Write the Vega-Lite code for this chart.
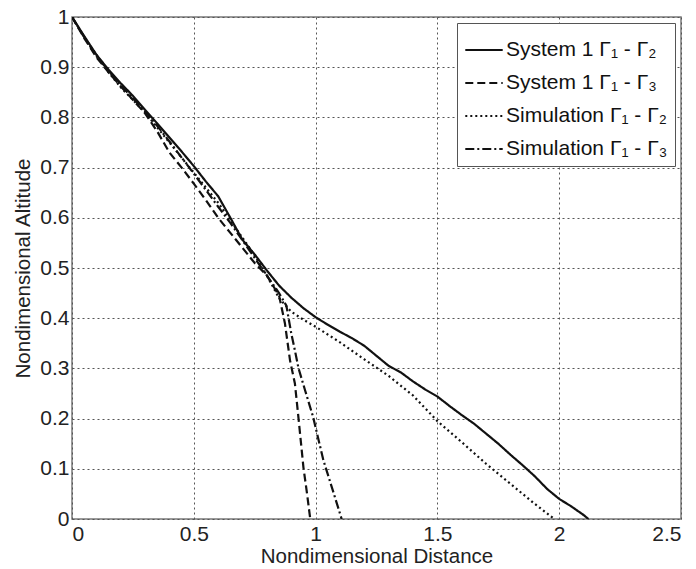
{
  "$schema": "https://vega.github.io/schema/vega-lite/v6.json",
  "autosize": "none",
  "width": 609,
  "height": 502,
  "padding": {"left": 72, "top": 17, "right": 15, "bottom": 50},
  "background": "white",
  "config": {
    "font": "Liberation Sans",
    "view": {"stroke": "#7a7a7a", "strokeWidth": 1.5},
    "axis": {
      "domain": false,
      "grid": true,
      "gridColor": "#555555",
      "gridDash": [2, 3],
      "gridWidth": 1,
      "gridOpacity": 1,
      "ticks": false,
      "labelFont": "Liberation Sans",
      "labelFontSize": 21,
      "labelColor": "#222222",
      "titleFont": "Liberation Sans",
      "titleFontSize": 20.5,
      "titleFontWeight": "normal",
      "titleColor": "#222222"
    }
  },
  "data": {
    "values": [
      {"series": "S1G12", "x": 0, "y": 1},
      {"series": "S1G12", "x": 0.05, "y": 0.962},
      {"series": "S1G12", "x": 0.1, "y": 0.925},
      {"series": "S1G12", "x": 0.15, "y": 0.895},
      {"series": "S1G12", "x": 0.2, "y": 0.868},
      {"series": "S1G12", "x": 0.25, "y": 0.843},
      {"series": "S1G12", "x": 0.3, "y": 0.815},
      {"series": "S1G12", "x": 0.35, "y": 0.788},
      {"series": "S1G12", "x": 0.4, "y": 0.76},
      {"series": "S1G12", "x": 0.45, "y": 0.732},
      {"series": "S1G12", "x": 0.5, "y": 0.703},
      {"series": "S1G12", "x": 0.55, "y": 0.672},
      {"series": "S1G12", "x": 0.6, "y": 0.643},
      {"series": "S1G12", "x": 0.65, "y": 0.6},
      {"series": "S1G12", "x": 0.7, "y": 0.556},
      {"series": "S1G12", "x": 0.75, "y": 0.527},
      {"series": "S1G12", "x": 0.8, "y": 0.495},
      {"series": "S1G12", "x": 0.85, "y": 0.465},
      {"series": "S1G12", "x": 0.9, "y": 0.441},
      {"series": "S1G12", "x": 0.95, "y": 0.42},
      {"series": "S1G12", "x": 1.0, "y": 0.402},
      {"series": "S1G12", "x": 1.05, "y": 0.387},
      {"series": "S1G12", "x": 1.1, "y": 0.373},
      {"series": "S1G12", "x": 1.15, "y": 0.36},
      {"series": "S1G12", "x": 1.2, "y": 0.345},
      {"series": "S1G12", "x": 1.25, "y": 0.325},
      {"series": "S1G12", "x": 1.3, "y": 0.305},
      {"series": "S1G12", "x": 1.35, "y": 0.292},
      {"series": "S1G12", "x": 1.4, "y": 0.274},
      {"series": "S1G12", "x": 1.45, "y": 0.258},
      {"series": "S1G12", "x": 1.5, "y": 0.244},
      {"series": "S1G12", "x": 1.55, "y": 0.225},
      {"series": "S1G12", "x": 1.6, "y": 0.207},
      {"series": "S1G12", "x": 1.65, "y": 0.19},
      {"series": "S1G12", "x": 1.7, "y": 0.17},
      {"series": "S1G12", "x": 1.75, "y": 0.15},
      {"series": "S1G12", "x": 1.8, "y": 0.128},
      {"series": "S1G12", "x": 1.85, "y": 0.107},
      {"series": "S1G12", "x": 1.9, "y": 0.085},
      {"series": "S1G12", "x": 1.95, "y": 0.06},
      {"series": "S1G12", "x": 2.0, "y": 0.04},
      {"series": "S1G12", "x": 2.05, "y": 0.025},
      {"series": "S1G12", "x": 2.1, "y": 0.008},
      {"series": "S1G12", "x": 2.12, "y": 0},

      {"series": "S1G13", "x": 0, "y": 1},
      {"series": "S1G13", "x": 0.05, "y": 0.958},
      {"series": "S1G13", "x": 0.1, "y": 0.92},
      {"series": "S1G13", "x": 0.15, "y": 0.89},
      {"series": "S1G13", "x": 0.2, "y": 0.862},
      {"series": "S1G13", "x": 0.25, "y": 0.835},
      {"series": "S1G13", "x": 0.3, "y": 0.808},
      {"series": "S1G13", "x": 0.35, "y": 0.772},
      {"series": "S1G13", "x": 0.4, "y": 0.73},
      {"series": "S1G13", "x": 0.45, "y": 0.7},
      {"series": "S1G13", "x": 0.5, "y": 0.668},
      {"series": "S1G13", "x": 0.55, "y": 0.635},
      {"series": "S1G13", "x": 0.6, "y": 0.6},
      {"series": "S1G13", "x": 0.65, "y": 0.57},
      {"series": "S1G13", "x": 0.7, "y": 0.54},
      {"series": "S1G13", "x": 0.75, "y": 0.51},
      {"series": "S1G13", "x": 0.8, "y": 0.485},
      {"series": "S1G13", "x": 0.85, "y": 0.445},
      {"series": "S1G13", "x": 0.874, "y": 0.39},
      {"series": "S1G13", "x": 0.895, "y": 0.316},
      {"series": "S1G13", "x": 0.915, "y": 0.27},
      {"series": "S1G13", "x": 0.93, "y": 0.2},
      {"series": "S1G13", "x": 0.95, "y": 0.103},
      {"series": "S1G13", "x": 0.965, "y": 0.05},
      {"series": "S1G13", "x": 0.978, "y": 0},

      {"series": "SimG12", "x": 0, "y": 1},
      {"series": "SimG12", "x": 0.05, "y": 0.96},
      {"series": "SimG12", "x": 0.1, "y": 0.925},
      {"series": "SimG12", "x": 0.15, "y": 0.89},
      {"series": "SimG12", "x": 0.2, "y": 0.86},
      {"series": "SimG12", "x": 0.25, "y": 0.835},
      {"series": "SimG12", "x": 0.3, "y": 0.81},
      {"series": "SimG12", "x": 0.35, "y": 0.78},
      {"series": "SimG12", "x": 0.4, "y": 0.75},
      {"series": "SimG12", "x": 0.45, "y": 0.72},
      {"series": "SimG12", "x": 0.5, "y": 0.69},
      {"series": "SimG12", "x": 0.55, "y": 0.66},
      {"series": "SimG12", "x": 0.6, "y": 0.63},
      {"series": "SimG12", "x": 0.65, "y": 0.595},
      {"series": "SimG12", "x": 0.7, "y": 0.56},
      {"series": "SimG12", "x": 0.75, "y": 0.525},
      {"series": "SimG12", "x": 0.8, "y": 0.485},
      {"series": "SimG12", "x": 0.85, "y": 0.44},
      {"series": "SimG12", "x": 0.9, "y": 0.413},
      {"series": "SimG12", "x": 0.95, "y": 0.397},
      {"series": "SimG12", "x": 1.0, "y": 0.383},
      {"series": "SimG12", "x": 1.1, "y": 0.352},
      {"series": "SimG12", "x": 1.2, "y": 0.318},
      {"series": "SimG12", "x": 1.3, "y": 0.285},
      {"series": "SimG12", "x": 1.4, "y": 0.246},
      {"series": "SimG12", "x": 1.5, "y": 0.195},
      {"series": "SimG12", "x": 1.6, "y": 0.153},
      {"series": "SimG12", "x": 1.7, "y": 0.11},
      {"series": "SimG12", "x": 1.8, "y": 0.07},
      {"series": "SimG12", "x": 1.9, "y": 0.03},
      {"series": "SimG12", "x": 1.98, "y": 0},

      {"series": "SimG13", "x": 0, "y": 1},
      {"series": "SimG13", "x": 0.05, "y": 0.96},
      {"series": "SimG13", "x": 0.1, "y": 0.922},
      {"series": "SimG13", "x": 0.15, "y": 0.893},
      {"series": "SimG13", "x": 0.2, "y": 0.864},
      {"series": "SimG13", "x": 0.25, "y": 0.838},
      {"series": "SimG13", "x": 0.3, "y": 0.812},
      {"series": "SimG13", "x": 0.35, "y": 0.783},
      {"series": "SimG13", "x": 0.4, "y": 0.752},
      {"series": "SimG13", "x": 0.45, "y": 0.72},
      {"series": "SimG13", "x": 0.5, "y": 0.688},
      {"series": "SimG13", "x": 0.55, "y": 0.655},
      {"series": "SimG13", "x": 0.6, "y": 0.622},
      {"series": "SimG13", "x": 0.65, "y": 0.59},
      {"series": "SimG13", "x": 0.7, "y": 0.555},
      {"series": "SimG13", "x": 0.75, "y": 0.52},
      {"series": "SimG13", "x": 0.8, "y": 0.485},
      {"series": "SimG13", "x": 0.85, "y": 0.45},
      {"series": "SimG13", "x": 0.88, "y": 0.425},
      {"series": "SimG13", "x": 0.9, "y": 0.37},
      {"series": "SimG13", "x": 0.915, "y": 0.336},
      {"series": "SimG13", "x": 0.93, "y": 0.3},
      {"series": "SimG13", "x": 0.957, "y": 0.256},
      {"series": "SimG13", "x": 0.99, "y": 0.203},
      {"series": "SimG13", "x": 1.032, "y": 0.117},
      {"series": "SimG13", "x": 1.07, "y": 0.058},
      {"series": "SimG13", "x": 1.107, "y": 0}
    ]
  },
  "mark": {"type": "line", "strokeWidth": 2.2, "clip": true},
  "encoding": {
    "x": {
      "field": "x",
      "type": "quantitative",
      "scale": {"domain": [0, 2.5], "nice": false},
      "axis": {"values": [0, 0.5, 1, 1.5, 2, 2.5], "title": "Nondimensional Distance", "labelPadding": 4, "titlePadding": 2, "format": "~g"}
    },
    "y": {
      "field": "y",
      "type": "quantitative",
      "scale": {"domain": [0, 1], "nice": false},
      "axis": {"values": [0, 0.1, 0.2, 0.3, 0.4, 0.5, 0.6, 0.7, 0.8, 0.9, 1], "title": "Nondimensional Altitude", "labelPadding": 3, "titlePadding": 6, "format": "~g"}
    },
    "color": {
      "field": "series",
      "type": "nominal",
      "scale": {"domain": ["S1G12", "S1G13", "SimG12", "SimG13"], "range": ["#111111", "#111111", "#111111", "#111111"]},
      "legend": {
        "title": null,
        "orient": "top-right",
        "offset": 6,
        "fillColor": "white",
        "strokeColor": "#555555",
        "padding": 7,
        "labelFontSize": 21,
        "labelFont": "Liberation Sans",
        "labelColor": "#111111",
        "labelOffset": 2,
        "labelLimit": 300,
        "symbolType": "stroke",
        "symbolSize": 1400,
        "symbolStrokeWidth": 2.2,
        "rowPadding": 3,
        "labelExpr": "datum.label == 'S1G12' ? 'System 1 Γ₁ - Γ₂' : datum.label == 'S1G13' ? 'System 1 Γ₁ - Γ₃' : datum.label == 'SimG12' ? 'Simulation Γ₁ - Γ₂' : 'Simulation Γ₁ - Γ₃'"
      }
    },
    "strokeDash": {
      "field": "series",
      "type": "nominal",
      "scale": {"domain": ["S1G12", "S1G13", "SimG12", "SimG13"], "range": [[1, 0], [8, 4], [2, 3], [9, 3, 2, 3]]},
      "legend": null
    }
  }
}
